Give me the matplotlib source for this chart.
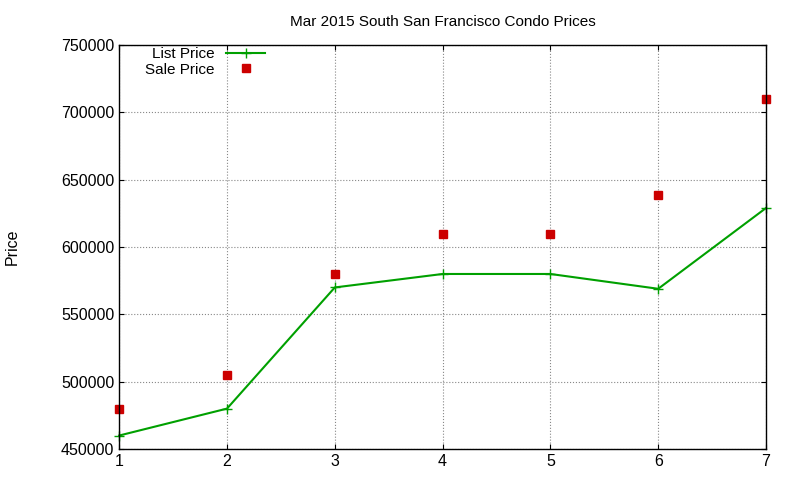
import matplotlib
matplotlib.use("Agg")
import matplotlib.pyplot as plt

x = [1, 2, 3, 4, 5, 6, 7]
list_price = [460000, 480000, 570000, 580000, 580000, 569000, 629000]
sale_price = [480000, 505000, 580000, 610000, 610000, 639000, 710000]
yticks = [450000, 500000, 550000, 600000, 650000, 700000, 750000]

plt.rcParams['font.family'] = ['Liberation Sans', 'DejaVu Sans']
fig = plt.figure(figsize=(8, 4.8), dpi=100)
ax = fig.add_axes([0.149, 0.0646, 0.8085, 0.8414])
ax.plot(x, list_price, color='#00a000', marker='+', markersize=7, linewidth=1.5, label='List Price', clip_on=False)
ax.plot(x, sale_price, color='#cc0000', marker='s', markersize=6, linestyle='none', label='Sale Price', clip_on=False)
ax.set_xlim(1, 7)
ax.set_ylim(450000, 750000)
ax.set_yticks(yticks)
ax.set_yticklabels([str(v) for v in yticks])
ax.set_xticks(x)
ax.grid(True, linestyle=':', color='#888888', linewidth=0.8)
ax.tick_params(direction='in', top=True, right=True, labelsize=11.5)
ax.set_ylabel('Price', fontsize=11.5, labelpad=30)
ax.set_title('Mar 2015 South San Francisco Condo Prices', fontsize=11, pad=14)
ax.legend(loc='upper left', markerfirst=False, frameon=False, fontsize=11,
          handlelength=2.5, borderaxespad=0.0, labelspacing=0.1, bbox_to_anchor=(0.03, 1.01))
for s in ax.spines.values():
    s.set_linewidth(1)
fig.savefig('out.png')
